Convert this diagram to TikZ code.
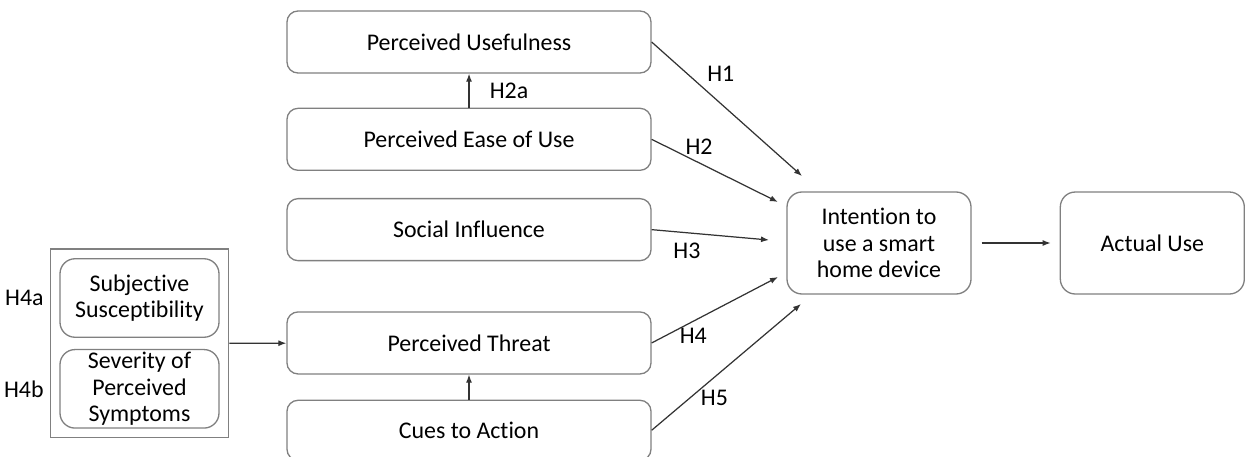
\documentclass[tikz,border=0pt]{standalone}
\usepackage{fontspec}
\setmainfont[Ligatures={NoCommon}]{Carlito}
\usetikzlibrary{positioning, arrows.meta, fit}

\begin{document}
\begin{tikzpicture}[
        font=\fontsize{13.6}{15}\selectfont,
        box/.style={draw=black!50, line width=0.75pt, rounded corners=0.22cm, minimum width=7.28cm, minimum height=1.24cm, align=center},
        bigbox/.style={draw=black!50, line width=0.75pt, rounded corners=0.3cm, minimum width=3.68cm, minimum height=2.04cm, align=center},
        subbox/.style={draw=black!50, line width=0.75pt, rounded corners=0.3cm, minimum width=3.18cm, minimum height=1.57cm, align=center, inner sep=1pt},
        arrow/.style={draw=black!80, line width=0.7pt, -{Latex[length=1.6mm, width=1.2mm]}},
        lbl/.style={inner sep=1pt}
    ]
    \useasboundingbox (0,0) rectangle (25,-9.12);

    % constructs
    \node (pu) [box] at (9.38,-0.84) {Perceived Usefulness};
    \node (peou) [box, below=0.68cm of pu] {Perceived Ease of Use};
    \node (si) [box, below=0.54cm of peou] {Social Influence};
    \node (pt) [box, below=1.0cm of si] {Perceived Threat};
    \node (ca) [box, below=0.5cm of pt, minimum height=1.2cm] {Cues to Action};

    \node (intent) [bigbox] at (17.58,-4.86) {Intention to\\use a smart\\home device};
    \node (actual) [bigbox, right=1.76cm of intent] {Actual Use};

    % threat components
    \node (ss) [subbox] at (2.79,-5.96) {Subjective\\Susceptibility};
    \node (sev) [subbox, below=0.22cm of ss] {Severity of\\Perceived\\Symptoms};
    \node (grp) [draw=black!50, line width=0.75pt, inner sep=0.18cm, fit=(ss) (sev)] {};
    \node (h4a) [lbl, anchor=east, xshift=-0.08cm] at (grp.west |- ss) {H4a};
    \node (h4b) [lbl, anchor=east, xshift=-0.08cm] at (grp.west |- sev) {H4b};

    % arrow ends in front of the intention box
    \coordinate (t1) at (16.04,-3.52);
    \coordinate (t2) at (15.56,-4.04);
    \coordinate (t3) at (15.38,-4.80);
    \coordinate (t4) at (15.56,-5.54);
    \coordinate (t5) at (16.02,-6.08);

    % paths
    \draw[arrow] (pu.east) -- node[lbl, pos=0.46, yshift=0.6cm] {H1} (t1);
    \draw[arrow] (peou.east) -- node[lbl, pos=0.375, yshift=0.33cm] {H2} (t2);
    \draw[arrow] (si.east) -- node[lbl, pos=0.3, yshift=-0.37cm] {H3} (t3);
    \draw[arrow] (pt.east) -- node[lbl, pos=0.33, yshift=-0.3cm] {H4} (t4);
    \draw[arrow] (ca.east) -- node[lbl, pos=0.42, yshift=-0.41cm] {H5} (t5);
    \draw[arrow] (peou.north) -- node[lbl, xshift=0.8cm] {H2a} (pu.south -| peou.north);
    \draw[arrow] (ca.north) -- (pt.south -| ca.north);
    \draw[arrow] (grp) -- (pt);
    \draw[arrow, shorten <=0.2cm, shorten >=0.18cm] (intent) -- (actual);

\end{tikzpicture}
\end{document}
